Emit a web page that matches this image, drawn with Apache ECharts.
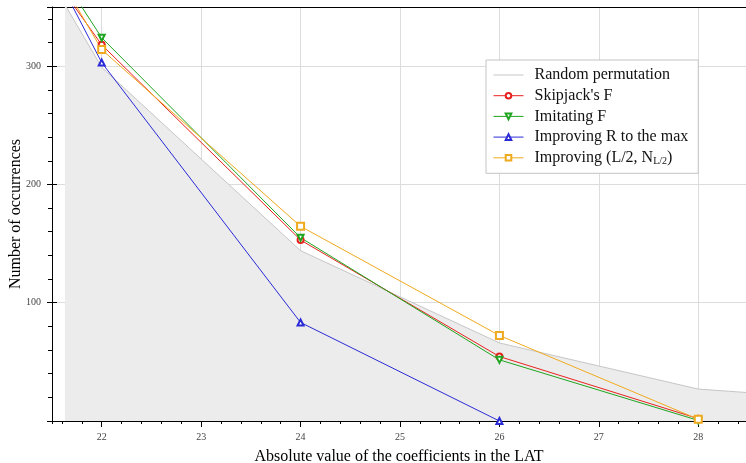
<!DOCTYPE html>
<html><head><meta charset="utf-8">
<script src="https://cdn.jsdelivr.net/npm/echarts@6/dist/echarts.min.js"></script>
<style>html,body{margin:0;padding:0;background:#fff}#c{width:746px;height:463px}</style>
</head><body><div id="c"></div>
<script>
const seriesNames = ["Random permutation", "Skipjack's F", "Imitating F", "Improving R to the max", "Improving (L/2, N_L/2)"];
const randomPerm = [[21.63, 352], [22, 299], [24, 144], [26, 66], [28, 27], [30, 15]];
const skipjack = [[20, 554], [22, 318], [24, 153], [26, 54.5], [28, 2]];
const imitating = [[20, 584], [22, 324], [24, 155], [26, 51.7], [28, 0.5]];
const improvingR = [[20, 627], [22, 303], [24, 83.3], [26, 0]];
const improvingL = [[20, 602], [22, 314], [24, 164.6], [26, 72.3], [28, 1.5]];
const xMin = 21.5, xMax = 28.48, yMin = 0, yMax = 350;

const font = 'Liberation Serif';
const chart = echarts.init(document.getElementById('c'));
const baseX = {type: 'value', min: xMin, max: xMax, position: 'bottom', splitLine: {show: false},
  axisLine: {show: false}, axisLabel: {show: false}, axisTick: {show: false}};
const baseY = {type: 'value', min: yMin, max: yMax, position: 'left', splitLine: {show: false},
  axisLine: {show: false}, axisLabel: {show: false}, axisTick: {show: false}};
const intLabel = v => (Math.abs(v - Math.round(v)) < 1e-6 ? String(Math.round(v)) : '');
chart.setOption({
  animation: false,
  grid: {left: 52, top: 7, right: 0, bottom: 42, containLabel: false, outerBoundsMode: 'none'},
  legend: {
    data: [{name: seriesNames[0], itemStyle: {opacity: 0}}, seriesNames[1], seriesNames[2], seriesNames[3], seriesNames[4]],
    orient: 'vertical', left: 486, top: 60,
    padding: [7, 10, 7, 7], itemWidth: 30, itemHeight: 7, itemGap: 4.7,
    backgroundColor: '#fff', borderColor: '#c4c4c4', borderWidth: 1,
    lineStyle: {width: 1},
    textStyle: {fontFamily: font, fontSize: 16, color: '#111', padding: [0, 0, 0, 6],
      rich: {sub: {fontFamily: font, fontSize: 10, color: '#111', padding: [7, 0, 0, 0]}}},
    formatter: n => n === 'Improving (L/2, N_L/2)' ? 'Improving (L/2, N{sub|L/2})' : n
  },
  xAxis: [
    Object.assign({}, baseX, {
      splitNumber: 7,
      axisLine: {show: true, onZero: false, lineStyle: {color: '#000', width: 1}},
      axisTick: {show: true, length: 6, lineStyle: {color: '#000'}},
      axisLabel: {show: true, margin: 11, fontFamily: font, fontSize: 10, color: '#444', formatter: intLabel,
        showMinLabel: false, showMaxLabel: false},
      splitLine: {show: true, lineStyle: {color: '#dcdcdc', width: 1}},
      name: 'Absolute value of the coefficients in the LAT', nameLocation: 'middle', nameGap: 28,
      nameMoveOverlap: false,
      nameTextStyle: {fontFamily: font, fontSize: 16, color: '#000'}
    }),
    Object.assign({}, baseX, {splitNumber: 35,
      axisTick: {show: true, length: 3, lineStyle: {color: '#000'}}}),
    Object.assign({}, baseX, {splitNumber: 7,
      axisTick: {show: true, inside: true, length: 3, lineStyle: {color: '#000'}}}),
    Object.assign({}, baseX, {position: 'top',
      axisLine: {show: true, onZero: false, lineStyle: {color: '#000', width: 1}}})
  ],
  yAxis: [
    Object.assign({}, baseY, {
      interval: 100,
      axisLine: {show: true, onZero: false, lineStyle: {color: '#000', width: 1}},
      axisTick: {show: true, length: 5, lineStyle: {color: '#000'}},
      axisLabel: {show: true, margin: 11, fontFamily: font, fontSize: 10, color: '#444',
        formatter: v => (v > 0 && v % 100 === 0 ? String(v) : '')},
      splitLine: {show: true, lineStyle: {color: '#dcdcdc', width: 1}},
      name: 'Number of occurrences', nameLocation: 'middle', nameGap: 28,
      nameMoveOverlap: false,
      nameTextStyle: {fontFamily: font, fontSize: 16, color: '#000'}
    }),
    Object.assign({}, baseY, {interval: 20,
      axisTick: {show: true, length: 4, lineStyle: {color: '#000'}}}),
    Object.assign({}, baseY, {interval: 100,
      axisTick: {show: true, inside: true, length: 5, lineStyle: {color: '#000'}}})
  ],
  series: [
    {name: seriesNames[0], type: 'line', data: randomPerm, symbol: 'none', clip: true,
      lineStyle: {color: '#c6c6c6', width: 1}, itemStyle: {color: '#c6c6c6'},
      areaStyle: {color: '#ececec', opacity: 1}, z: 1},
    {name: seriesNames[1], type: 'line', data: skipjack, symbol: 'emptyCircle', symbolSize: 6, clip: true,
      lineStyle: {color: '#e8231f', width: 1}, itemStyle: {color: '#e8231f', borderWidth: 1}, z: 3},
    {name: seriesNames[2], type: 'line', data: imitating, symbol: 'emptyTriangle', symbolRotate: 180, symbolSize: 6, clip: true,
      lineStyle: {color: '#1fa51f', width: 1}, itemStyle: {color: '#1fa51f', borderWidth: 1}, z: 3},
    {name: seriesNames[3], type: 'line', data: improvingR, symbol: 'emptyTriangle', symbolSize: 6, clip: true,
      lineStyle: {color: '#2a2ad6', width: 1}, itemStyle: {color: '#2a2ad6', borderWidth: 1}, z: 3},
    {name: seriesNames[4], type: 'line', data: improvingL, symbol: 'emptyRect', symbolSize: 7, clip: true,
      lineStyle: {color: '#f0aa1e', width: 1}, itemStyle: {color: '#f0aa1e', borderWidth: 1}, z: 3}
  ]
});
</script></body></html>
